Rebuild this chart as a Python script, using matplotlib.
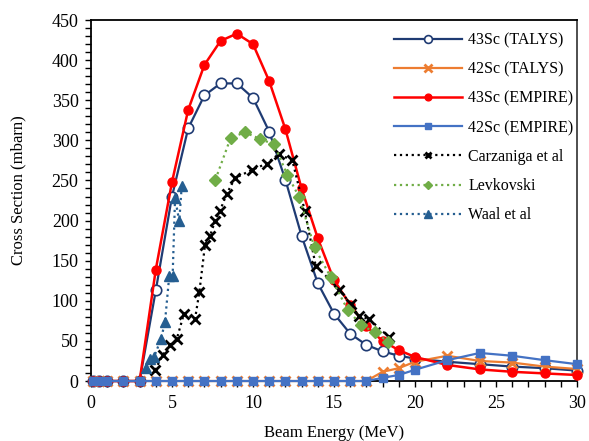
import matplotlib
matplotlib.use("Agg")
import matplotlib.pyplot as plt
from matplotlib.ticker import MultipleLocator

plt.rcParams['font.family'] = ['Liberation Serif', 'DejaVu Serif']

# Energies (MeV)
E_model = [0.1, 0.5, 1, 2, 3, 4, 5, 6, 7, 8, 9, 10, 11, 12, 13, 14, 15, 16, 17, 18, 19, 20, 22, 24, 26, 28, 30]

talys43 = [0, 0, 0, 0, 0, 113, 230, 315, 356, 371, 371, 353, 311, 251, 181, 122, 84, 59, 45, 37, 31.5, 28, 24, 21, 18, 16, 13]
talys42 = [0, 0, 0, 0, 0, 0, 0, 0, 0, 0, 0, 0, 0, 0, 0, 0, 0, 0, 0, 11.5, 16, 24, 31.5, 25, 23, 18, 15]
empire43 = [0, 0, 0, 0, 0, 139, 248, 338, 394, 424, 433, 420, 374, 314, 240, 178, 126, 95, 68, 50, 38.5, 30, 20, 14.5, 11.5, 9.5, 7.5]
empire42 = [0, 0, 0, 0, 0, 0, 0, 0, 0, 0, 0, 0, 0, 0, 0, 0, 0, 0, 0, 4, 7.5, 14, 26, 35, 31.5, 26, 21]

carz_E = [3.95, 4.42, 4.88, 5.29, 5.74, 6.42, 6.69, 7.04, 7.35, 7.65, 7.96, 8.37, 8.89, 9.92, 10.84, 11.6, 12.43, 13.2, 13.87, 15.33, 16.03, 16.54, 17.18, 18.42]
carz_v = [13.7, 32, 45, 52, 84, 77, 111, 170, 181, 199, 212, 233, 253, 263, 271, 283, 275, 212, 144, 114, 96, 81, 77, 54.5]

levk_E = [7.68, 8.62, 9.49, 10.41, 11.3, 12.12, 12.84, 13.8, 14.8, 15.84, 16.67, 17.53, 18.35]
levk_v = [251, 303, 310, 302, 295, 257, 230, 166.5, 129.5, 89, 70, 60.6, 49]

waal_E = [3.37, 3.64, 3.89, 4.32, 4.57, 4.83, 5.04, 5.19, 5.45, 5.6]
waal_v = [16, 27, 30, 52, 74, 131, 131, 228, 199, 243]

fig = plt.figure(figsize=(5.89, 4.41), dpi=100)
ax = fig.add_axes([0.1545, 0.136, 0.825, 0.8186])

navy = '#1F3B73'
orange = '#ED7D31'
red = '#FF0000'
blue = '#4472C4'
green = '#70AD47'
waalc = '#255E91'

ax.plot(E_model, talys43, '-', color=navy, lw=1.6, marker='o', ms=7.5, mfc='white', mec=navy, mew=1.2,
        label='43Sc (TALYS)', clip_on=False, zorder=3)
ax.plot(E_model, talys42, '-', color=orange, lw=1.6, marker='x', ms=7, mec=orange, mew=2,
        label='42Sc (TALYS)', clip_on=False, zorder=3)
ax.plot(E_model, empire43, '-', color=red, lw=1.8, marker='o', ms=6.5, mfc=red, mec=red,
        label='43Sc (EMPIRE)', clip_on=False, zorder=4)
ax.plot(E_model, empire42, '-', color=blue, lw=1.6, marker='s', ms=6, mfc=blue, mec=blue,
        label='42Sc (EMPIRE)', clip_on=False, zorder=5)
ax.plot(carz_E, carz_v, ':', color='black', lw=1.6, marker='x', ms=6.5, mec='black', mew=2,
        label='Carzaniga et al', zorder=6)
ax.plot(levk_E, levk_v, ':', color=green, lw=1.6, marker='D', ms=6, mfc=green, mec=green,
        label='Levkovski', zorder=6)
ax.plot(waal_E, waal_v, ':', color=waalc, lw=1.6, marker='^', ms=7, mfc=waalc, mec=waalc,
        label='Waal et al', zorder=6)

ax.set_xlim(0, 30)
ax.set_ylim(0, 450)
ax.xaxis.set_major_locator(MultipleLocator(5))
ax.xaxis.set_minor_locator(MultipleLocator(1))
ax.yaxis.set_major_locator(MultipleLocator(50))
ax.yaxis.set_minor_locator(MultipleLocator(10))
ax.tick_params(which='both', direction='out', length=4, width=1, labelsize=13, colors='black')
ax.tick_params(axis='x', pad=6)
ax.tick_params(axis='y', pad=5)

for s in ['left', 'bottom', 'top']:
    ax.spines[s].set_linewidth(1.3)
    ax.spines[s].set_color('black')
ax.spines['right'].set_linewidth(1.3)
ax.spines['right'].set_color('#404040')

ax.set_xlabel('Beam Energy (MeV)', fontsize=12)
ax.set_ylabel('Cross Section (mbarn)', fontsize=12)
# label positions in axes coordinates
ax.xaxis.set_label_coords(0.5, -0.122)
ax.yaxis.set_label_coords(-0.132, 0.528)

leg = ax.legend(loc='upper right', bbox_to_anchor=(1.008, 0.985), frameon=False, fontsize=11.5,
                handlelength=4.3, handletextpad=0.38, labelspacing=0.82, borderaxespad=0.05,
                markerscale=0.75)

fig.savefig('out.png', dpi=100)
